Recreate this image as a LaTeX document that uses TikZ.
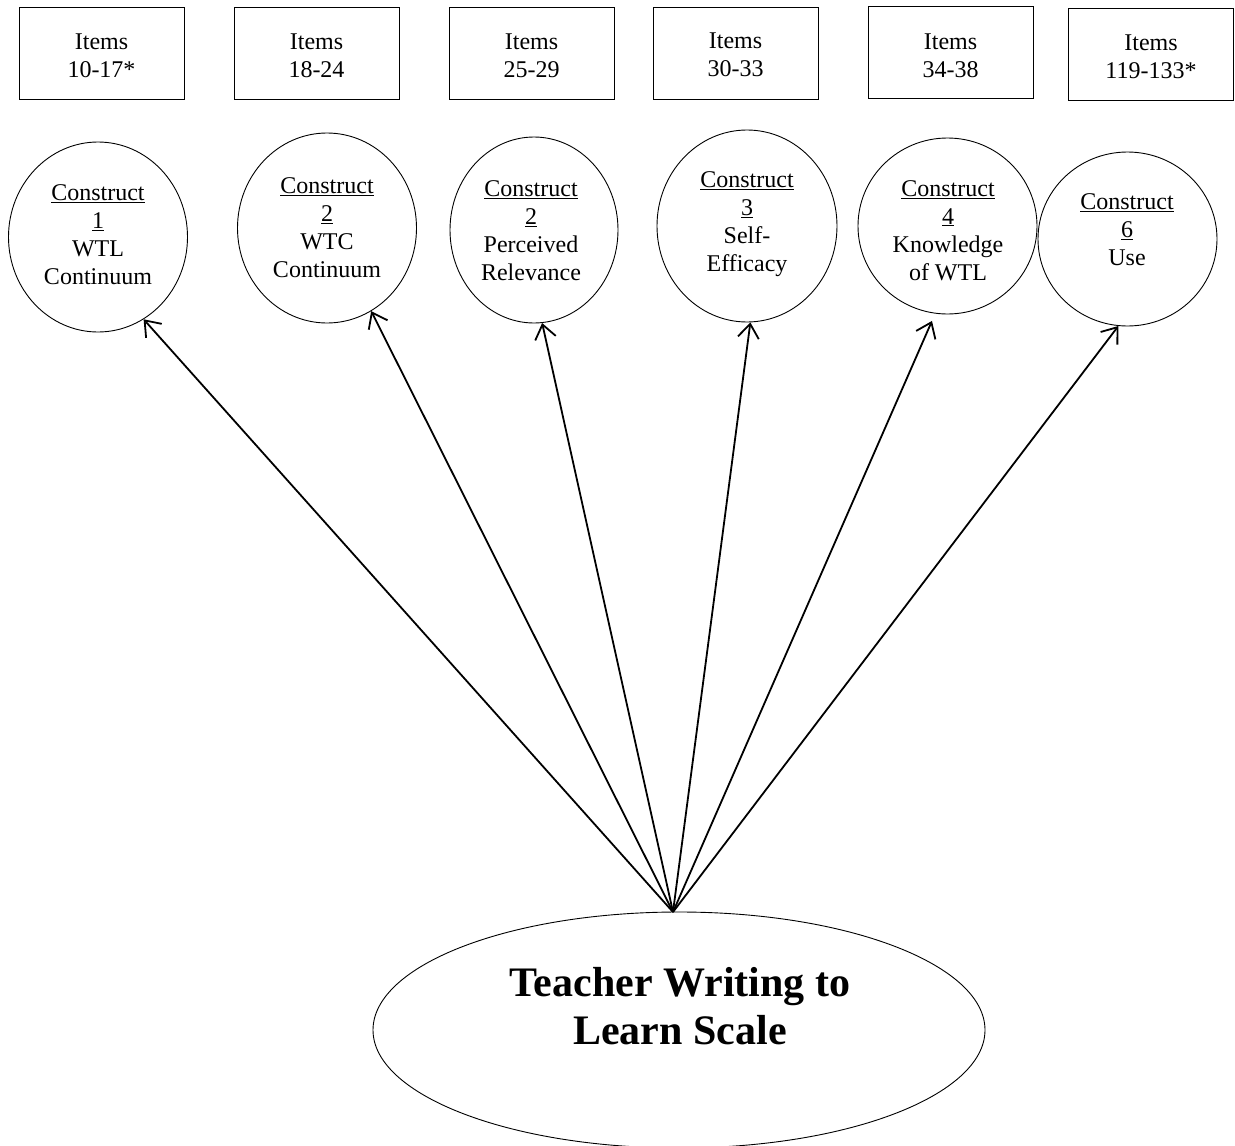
\documentclass[tikz,border=0pt]{standalone}
\usepackage{fontspec}
\setmainfont{Liberation Serif}
\usetikzlibrary{arrows.meta,shapes.geometric}
\begin{document}
\begin{tikzpicture}[x=1pt,y=-1pt,
  itembox/.style={draw,line width=0.9pt,minimum width=165pt,minimum height=92pt,inner sep=0pt,align=center,font=\fontsize{24}{28}\selectfont},
  itemtext/.style={align=center,inner sep=0pt,font=\fontsize{24}{28}\selectfont},
  cons/.style={draw,ellipse,line width=0.9pt,inner sep=0pt},
  ctext/.style={align=center,inner sep=0pt,font=\fontsize{24}{28}\selectfont},
  link/.style={line width=1.8pt,-{Straight Barb[length=14pt,width=21pt]}}]
\useasboundingbox (0,0) rectangle (1235,1146);

% item boxes
\node[itembox] (b1) at (101.5,53) {};
\node[itembox] (b2) at (316.5,53.5) {};
\node[itembox] (b3) at (531.5,53) {};
\node[itembox] (b4) at (735.5,53) {};
\node[itembox] (b5) at (950.5,52.5) {};
\node[itembox] (b6) at (1151,54) {};
\node[itemtext] (i1) at (101.5,55.5) {Items\\10-17*};
\node[itemtext] (i2) at (316.5,56) {Items\\18-24};
\node[itemtext] (i3) at (531.5,56) {Items\\25-29};
\node[itemtext] (i4) at (735.5,55) {Items\\30-33};
\node[itemtext] (i5) at (950.5,55.5) {Items\\34-38};
\node[itemtext] (i6) at (1151,57) {Items\\119-133*};

% constructs
\node[cons,minimum width=179pt,minimum height=190pt] (c1) at (98,237) {};
\node[cons,minimum width=179pt,minimum height=190pt] (c2) at (327,228) {};
\node[cons,minimum width=168pt,minimum height=186pt] (c3) at (534,230) {};
\node[cons,minimum width=180pt,minimum height=192pt] (c4) at (747,226) {};
\node[cons,minimum width=179pt,minimum height=176pt] (c5) at (947.5,226) {};
\node[cons,minimum width=179pt,minimum height=174pt] (c6) at (1127.5,239) {};

\node[ctext] (t1) at (98,235) {\underline{Construct}\\\underline{1}\\WTL\\Continuum};
\node[ctext] (t2) at (327,227.5) {\underline{Construct}\\\underline{2}\\WTC\\Continuum};
\node[ctext] (t3) at (531,230.5) {\underline{Construct}\\\underline{2}\\Perceived\\Relevance};
\node[ctext] (t4) at (747,224) {\underline{Construct}\\\underline{3}\\Self-\\Efficacy};
\node[ctext] (t5) at (948,230.5) {\underline{Construct}\\\underline{4}\\Knowledge\\of WTL};
\node[ctext] (t6) at (1127,230) {\underline{Construct}\\\underline{6}\\Use};

% scale
\node[draw,ellipse,line width=0.9pt,minimum width=612pt,minimum height=236pt,inner sep=0pt] (E) at (679,1030) {};
\node[align=center,inner sep=0pt,font=\fontsize{42}{48}\selectfont\bfseries] (tt) at (680,1006) {Teacher Writing to\\Learn Scale};

\coordinate (src) at (673,912);

\draw[link] (src) -- (c1.-61);
\draw[link] (src) -- (c2.-62);
\draw[link] (src) -- (c3.-85);
\draw[link] (src) -- (c4.-88);
\draw[link,shorten >=8pt] (src) -- (c5.-98);
\draw[link] (src) -- (c6.-96);
\end{tikzpicture}
\end{document}
